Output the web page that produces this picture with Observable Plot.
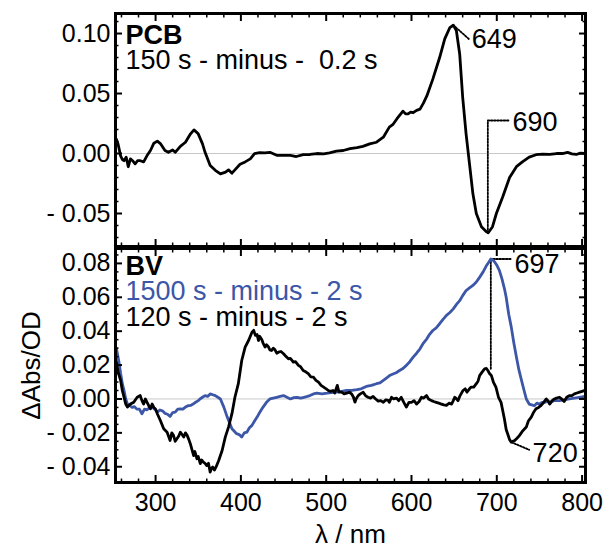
<!DOCTYPE html>
<html><head><meta charset="utf-8">
<script src="https://cdn.jsdelivr.net/npm/d3@7"></script>
<script src="https://cdn.jsdelivr.net/npm/@observablehq/plot@0.6"></script>
<style>
html,body{margin:0;padding:0;background:#fff;}
#chart{width:605px;height:548px;overflow:hidden;}
#chart svg{display:block;}
#chart text{white-space:pre;}
</style></head><body><div id="chart"></div>
<script>
// ---- Data ----
const pcbNm = [254,256,259,261,263,265.5,268,270.5,273,276,279,282,286,290,294,298,302,306,311,315,320,323,329,335,341,345,350,355,358,364,370,376,382,385.5,389.5,393,399,405,411,416,422,428,434,442,450,458,465,473,481,489,497,504,512,520,528,536,543,551,559,567,574,578,583,590,593,596,599,602,606,610,614,618,625,633,639,645,649,652.6,656.5,660,664,668,672,676,682,687.5,690,695,699.5,707,715,723,730,738,746,754,762,770,777,783,788,793,798,803];
const pcbDelta = [0.012,0.008,-0.002,-0.005,-0.006,-0.003,-0.011,-0.0045,-0.006,-0.0086,-0.006,-0.006,-0.007,-0.0017,0.0025,0.0086,0.0103,0.008,0.0025,0.001,0.003,0.001,0.006,0.0094,0.0164,0.0197,0.0164,0.008,0.001,-0.010,-0.014,-0.017,-0.0155,-0.0136,-0.0164,-0.0136,-0.009,-0.007,-0.0045,0,0.0008,0.0005,0.001,-0.0015,-0.0015,-0.0015,-0.0025,-0.001,-0.0008,0,-0.0003,0.0005,0.002,0.0025,0.004,0.005,0.006,0.008,0.0094,0.0136,0.022,0.024,0.029,0.0353,0.033,0.033,0.0345,0.034,0.036,0.037,0.042,0.048,0.062,0.080,0.0956,0.105,0.107,0.1025,0.083,0.047,0.0164,-0.0086,-0.0336,-0.050,-0.061,-0.065,-0.066,-0.061,-0.050,-0.036,-0.020,-0.011,-0.007,-0.003,-0.001,-0.0005,-0.0008,0,0,0.001,-0.0003,-0.0008,0.0003,0];

const bv1500Nm = [254,257,259,261,263,265,267,270,272.5,275,278,281,284,287,290,293,296,299,302,305,308,311,314,317,320,323,326,329,332,335,338,341,344,347,350,352,355,358,361,364,367,370,373,376,380,384,389.5,395,398,401,404,407,410,413,416,419,422,426,430,434,438,442,446,450,454,458,462,466,470,474,478,481,485,489,495,501,506,512,518,524,530,536,541,547,553,559,563,567,571,575,579,582,586,590,594,598,602,606,610,614,618,621,625,629,633,637,641,645,649,653,656.5,660,664,668,672,676,680,684,688,691,693,695,697.5,700,703,706,709,711,714,717,720,723,726,729,732,734.6,738,741,744,747,750,753,756,759,762,767,773,779,785,791,797,803];
const bv1500Delta = [0.030,0.022,0.015,0.009,0.005,0.000,-0.003,-0.004,-0.005,-0.0045,-0.006,-0.006,-0.0087,-0.006,-0.0064,-0.005,-0.0048,-0.006,-0.0078,-0.0065,-0.007,-0.0085,-0.009,-0.0103,-0.008,-0.0078,-0.006,-0.0058,-0.006,-0.0048,-0.004,-0.0038,-0.003,-0.0019,-0.001,0,0.001,0.002,0.0015,0.003,0.0025,0.002,0.001,0,-0.0048,-0.0107,-0.0176,-0.0205,-0.021,-0.0225,-0.020,-0.0196,-0.017,-0.0156,-0.013,-0.0107,-0.008,-0.0048,-0.002,0,0.0005,0.001,0.0015,0.002,0.001,0,0.0008,0.001,0.0005,0.001,0.0015,0.002,0.003,0.0034,0.003,0.0034,0.0038,0.004,0.0045,0.005,0.005,0.0055,0.006,0.0074,0.008,0.009,0.0095,0.011,0.0125,0.014,0.0149,0.0155,0.0168,0.018,0.0198,0.022,0.0247,0.027,0.0296,0.033,0.0355,0.038,0.0404,0.042,0.0444,0.047,0.0493,0.051,0.0532,0.056,0.058,0.061,0.064,0.0655,0.067,0.069,0.0719,0.075,0.0788,0.081,0.0826,0.0822,0.0808,0.079,0.0759,0.071,0.065,0.060,0.050,0.0424,0.033,0.0247,0.017,0.011,0.005,0,-0.003,-0.0035,-0.004,-0.0025,-0.003,-0.002,-0.002,-0.0015,-0.002,-0.001,-0.001,-0.0005,0,0.0005,0.001,0.0015];

const bv120Nm = [254,256,259,261,263,265,267,270.5,274.4,278.4,282,284,286,288,290,292,294,296,298,300,302,305.6,309.5,313.5,317,319,321,323,325,327,329,331,333,335,337,339,340.7,344.6,346,348.5,350,352.4,354,356,358,360,362,364,365.5,367,369,371,374,378,381.7,385.5,389.5,393,397,401,405,409,413,415,417,419,420.6,422,424.6,426,428.4,430,432,434,436,438,440,442,444,447,450,453,455.7,458,461.5,464,467.4,470,473,476,479,482,485,488,491,494,497,500,502.5,505,508,510,513,515,518,521,524,527,530,532,533.7,535,537.6,540,543.4,546,549,552,555,558,561,564,567,570,572.6,574,576.6,579,582.5,585,588,591,594,597,600,603,606,609,611.7,614,617.6,620,623.4,626,629,632,635,638,641,644,647,649,650.7,652,654.5,657,660.4,663,665,668,670,673,676,678,680,683,685.7,687.7,689.6,691.5,693.6,696,699,702,705,707,709,711,713,715,717,719,721,724,726.7,730,734.6,737,740.4,743,746,749,752,755,758,760,762,765,767.6,770,773.5,776,779,782,785,788,791,794,797,800,803];
const bv120Delta = [0.022,0.016,0.011,0.005,0.001,-0.003,-0.0048,-0.003,-0.0019,0.001,0.002,-0.001,-0.003,0.000,-0.002,-0.004,-0.0058,-0.003,-0.005,-0.006,-0.0087,-0.0127,-0.0176,-0.0196,-0.0245,-0.020,-0.0215,-0.025,-0.0235,-0.022,-0.0196,-0.021,-0.0225,-0.020,-0.0215,-0.024,-0.0264,-0.0334,-0.031,-0.0353,-0.034,-0.0382,-0.036,-0.0373,-0.038,-0.0393,-0.038,-0.0432,-0.041,-0.0402,-0.042,-0.040,-0.0363,-0.0304,-0.0225,-0.0166,-0.0087,0.001,0.009,0.0227,0.0306,0.0345,0.0394,0.0405,0.0375,0.038,0.0345,0.037,0.035,0.033,0.0306,0.032,0.031,0.029,0.0286,0.030,0.029,0.027,0.0276,0.028,0.0267,0.025,0.0237,0.024,0.0217,0.022,0.0198,0.019,0.0168,0.016,0.0149,0.013,0.0129,0.011,0.0099,0.008,0.007,0.006,0.005,0.0045,0.005,0.0035,0.008,0.004,0.004,0.003,0.0034,0.004,0.0028,0.001,-0.0019,0.000,0.002,0.003,0.004,0.002,0.001,0.0005,0.0015,0.000,-0.0013,-0.001,-0.002,-0.0005,-0.0008,-0.002,0.001,0.000,0.0005,-0.001,0.001,-0.002,-0.0048,-0.002,-0.002,-0.001,-0.003,-0.0015,0.001,0.0005,0.002,0.000,-0.001,-0.0015,-0.002,-0.0025,-0.003,-0.0035,-0.0038,-0.0025,-0.003,-0.001,0.001,0.0005,-0.001,0.002,0.005,0.006,0.004,0.006,0.007,0.007,0.009,0.0105,0.0139,0.016,0.0178,0.018,0.0168,0.015,0.0139,0.010,0.007,0.001,-0.002,-0.007,-0.012,-0.018,-0.021,-0.024,-0.0255,-0.025,-0.0245,-0.023,-0.0215,-0.019,-0.0166,-0.013,-0.0107,-0.008,-0.0058,-0.005,-0.0038,-0.002,0,-0.001,-0.003,-0.001,0,0.0005,0.001,0,-0.0015,0.001,0.002,0.002,0.003,0.0035,0.004,0.0045,0.005];

// axis ticks
const xMajorTicks = [300,400,500,600,700,800];
const xMinorTicks = d3.range(260, 801, 20).filter(v => v % 100 !== 0);
const yTopMajorTicks = [-0.05, 0, 0.05, 0.10];
const yTopMinorTicks = d3.range(-7, 12).map(i => i / 100).filter(v => Math.abs(Math.round(v * 100) % 5) !== 0);
const yBottomMajorTicks = [-0.04, -0.02, 0, 0.02, 0.04, 0.06, 0.08];
const yBottomMinorTicks = d3.range(-8, 18).map(i => i / 200).filter(v => Math.abs(Math.round(v * 200) % 4) !== 0);

// annotation labels (wavelength, value, text)
const topLabelNm = [670.5, 718.5];
const topLabelDelta = [0.088, 0.019];
const topLabelText = ["649", "690"];
const bottomLabelNm = [720.8, 742];
const bottomLabelDelta = [0.0745, -0.0373];
const bottomLabelText = ["697", "720"];
// dotted leaders
const leader649 = {nm: [649, 668], d: [0.107, 0.095]};
const leader690 = {nm: [689.5, 689.5, 715], d: [-0.066, 0.0275, 0.0275]};
const leader697 = {nm: [693, 693, 717], d: [0.0178, 0.0826, 0.0826]};
const leader720 = {nm: [717, 738], d: [-0.0255, -0.030]};

const zip = (xs, ys) => xs.map((x, i) => ({nm: x, d: ys[i]}));
const pcb = zip(pcbNm, pcbDelta);
const bv1500 = zip(bv1500Nm, bv1500Delta);
const bv120 = zip(bv120Nm, bv120Delta);
const topLabels = topLabelNm.map((x, i) => ({nm: x, d: topLabelDelta[i], t: topLabelText[i]}));
const bottomLabels = bottomLabelNm.map((x, i) => ({nm: x, d: bottomLabelDelta[i], t: bottomLabelText[i]}));

const FONT = "'Liberation Sans', Arial, Helvetica, sans-serif";
const BLUE = "#3c56a8";
const ANN = 27;
const xDomain = [253, 804];
const fmt = v => {
  const s = Math.abs(v).toFixed(2);
  return v < -1e-9 ? "- " + s : s;
};
const dotted = {stroke: "black", strokeWidth: 1.8, strokeDasharray: "1.6 1.6"};

function frameTicks(xMaj, xMin, yMaj, yMin) {
  return [
    Plot.axisX(xMaj, {anchor: "bottom", tickSize: -7, fill: "none", strokeWidth: 2, label: null}),
    Plot.axisX(xMaj, {anchor: "top", tickSize: -7, fill: "none", strokeWidth: 2, label: null}),
    Plot.axisX(xMin, {anchor: "bottom", tickSize: -3.5, fill: "none", strokeWidth: 1.5, label: null}),
    Plot.axisX(xMin, {anchor: "top", tickSize: -3.5, fill: "none", strokeWidth: 1.5, label: null}),
    Plot.axisY(yMaj, {anchor: "left", tickSize: -7, fill: "none", strokeWidth: 2, label: null}),
    Plot.axisY(yMaj, {anchor: "right", tickSize: -7, fill: "none", strokeWidth: 2, label: null}),
    Plot.axisY(yMin, {anchor: "left", tickSize: -3.5, fill: "none", strokeWidth: 1.5, label: null}),
    Plot.axisY(yMin, {anchor: "right", tickSize: -3.5, fill: "none", strokeWidth: 1.5, label: null})
  ];
}

const topPlot = Plot.plot({
  width: 605, height: 247,
  marginTop: 13, marginBottom: 1, marginLeft: 115, marginRight: 20,
  x: {domain: xDomain},
  y: {domain: [-0.0775, 0.1167]},
  style: {fontFamily: FONT, fontSize: "25px", background: "white", color: "black", overflow: "visible"},
  marks: [
    Plot.ruleY([0], {stroke: "#c8c8c8", strokeWidth: 1}),
    Plot.line(leader649.nm.map((x, i) => ({nm: x, d: leader649.d[i]})), {x: "nm", y: "d", ...dotted}),
    Plot.line(leader690.nm.map((x, i) => ({nm: x, d: leader690.d[i]})), {x: "nm", y: "d", ...dotted}),
    Plot.line(pcb, {x: "nm", y: "d", stroke: "black", strokeWidth: 2.8, strokeLinejoin: "round"}),
    Plot.text(topLabels, {x: "nm", y: "d", text: "t", textAnchor: "start", lineAnchor: "bottom", fontSize: ANN, fill: "black"}),
    Plot.text(["PCB"], {frameAnchor: "top-left", dx: 10, dy: 30, textAnchor: "start", lineAnchor: "bottom", fontSize: ANN, fontWeight: "bold", fill: "black"}),
    Plot.text(["150 s - minus -  0.2 s"], {frameAnchor: "top-left", dx: 10, dy: 55, textAnchor: "start", lineAnchor: "bottom", fontSize: ANN, fill: "black"}),
    Plot.axisY(yTopMajorTicks, {anchor: "left", tickSize: 0, tickPadding: 5, tickFormat: fmt, label: null, fontSize: 25}),
    ...frameTicks(xMajorTicks, xMinorTicks, yTopMajorTicks, yTopMinorTicks),
    Plot.frame({stroke: "black", strokeWidth: 3})
  ]
});

const bottomPlot = Plot.plot({
  width: 605, height: 301,
  marginTop: 1, marginBottom: 66, marginLeft: 115, marginRight: 20,
  x: {domain: xDomain},
  y: {domain: [-0.0493, 0.0888]},
  style: {fontFamily: FONT, fontSize: "25px", background: "white", color: "black", overflow: "visible"},
  marks: [
    Plot.ruleY([0], {stroke: "#c8c8c8", strokeWidth: 1}),
    Plot.line(leader697.nm.map((x, i) => ({nm: x, d: leader697.d[i]})), {x: "nm", y: "d", ...dotted}),
    Plot.line(leader720.nm.map((x, i) => ({nm: x, d: leader720.d[i]})), {x: "nm", y: "d", ...dotted}),
    Plot.line(bv1500, {x: "nm", y: "d", stroke: BLUE, strokeWidth: 2.8, strokeLinejoin: "round"}),
    Plot.line(bv120, {x: "nm", y: "d", stroke: "black", strokeWidth: 2.8, strokeLinejoin: "round"}),
    Plot.text(bottomLabels, {x: "nm", y: "d", text: "t", textAnchor: "start", lineAnchor: "bottom", fontSize: ANN, fill: "black"}),
    Plot.text(["BV"], {frameAnchor: "top-left", dx: 10, dy: 26, textAnchor: "start", lineAnchor: "bottom", fontSize: ANN, fontWeight: "bold", fill: "black"}),
    Plot.text(["1500 s - minus - 2 s"], {frameAnchor: "top-left", dx: 10, dy: 51, textAnchor: "start", lineAnchor: "bottom", fontSize: ANN, fill: BLUE}),
    Plot.text(["120 s - minus - 2 s"], {frameAnchor: "top-left", dx: 10, dy: 77, textAnchor: "start", lineAnchor: "bottom", fontSize: ANN, fill: "black"}),
    Plot.axisY(yBottomMajorTicks, {anchor: "left", tickSize: 0, tickPadding: 5, tickFormat: fmt, label: null, fontSize: 25}),
    Plot.axisX(xMajorTicks, {anchor: "bottom", tickSize: 0, tickPadding: 11, tickFormat: d => String(d), label: null, fontSize: 25}),
    Plot.text(["λ / nm"], {frameAnchor: "bottom", dy: 60, lineAnchor: "bottom", fontSize: 26, fill: "black"}),
    Plot.text(["ΔAbs/OD"], {frameAnchor: "left", dx: -76, rotate: -90, lineAnchor: "bottom", textAnchor: "middle", fontSize: 26, fill: "black"}),
    ...frameTicks(xMajorTicks, xMinorTicks, yBottomMajorTicks, yBottomMinorTicks),
    Plot.frame({stroke: "black", strokeWidth: 3})
  ]
});

const chart = document.getElementById("chart");
chart.appendChild(topPlot);
chart.appendChild(bottomPlot);
</script>
</body></html>
